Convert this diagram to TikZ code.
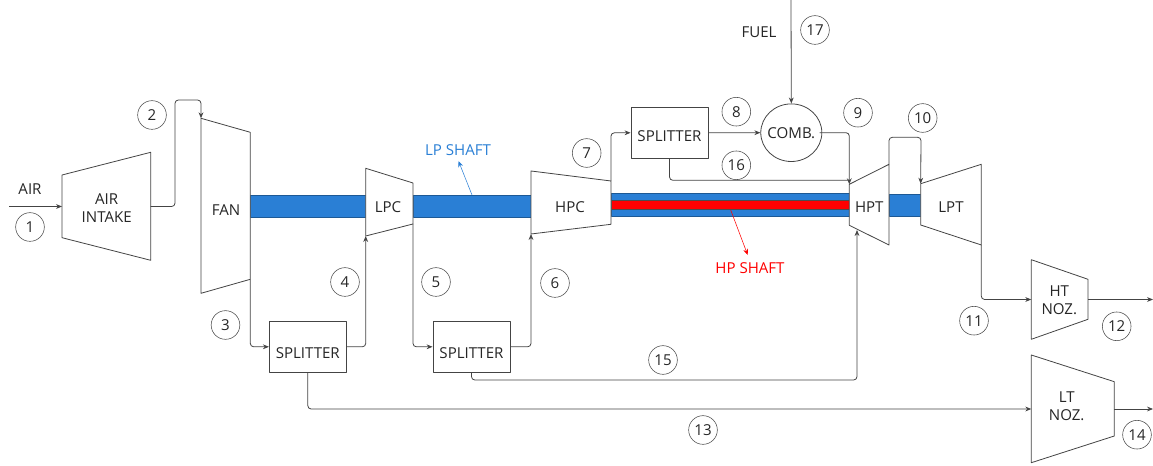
\documentclass[tikz,border=0pt]{standalone}
\usepackage{fontspec}
\setmainfont{Open Sans}
\usetikzlibrary{arrows.meta,shapes.geometric}
\definecolor{linegray}{HTML}{444444}
\definecolor{shaftblue}{HTML}{2A7FD5}
\tikzset{
	flow/.style={draw=linegray,line width=0.6pt,rounded corners=2.5pt},
	machine/.style={draw=linegray,line width=0.6pt,fill=white},
	splitbox/.style={draw=linegray,line width=0.6pt,minimum width=57.75pt,minimum height=38.25pt,inner sep=0pt},
	statenum/.style={circle,draw=linegray,line width=0.4pt,minimum size=21.5pt,inner sep=0pt},
	shaft/.style={fill=shaftblue,draw=shaftblue!70!black,line width=0.3pt},
	tag/.style={align=center,inner sep=0pt},
}
% trapezium: name, x left, y top left, y bottom left, x right, y top right, y bottom right
\newcommand{\machineshape}[7]{
	\coordinate (#1-a) at (#2,#3); \coordinate (#1-b) at (#2,#4);
	\coordinate (#1-c) at (#5,#6); \coordinate (#1-d) at (#5,#7);
	\draw[machine] (#1-a)--(#1-c)--(#1-d)--(#1-b)--cycle;
}
\begin{document}
\begin{tikzpicture}[>={Stealth[length=4.5pt,width=3.6pt]},line join=round,x=0.75pt,y=-0.75pt,font=\fontsize{11.3}{13.5}\selectfont,text=black!85]
	\useasboundingbox (0,0) rectangle (1153,466);
	% shafts
	\fill[shaft] (250,195) rectangle (366,217.3);
	\fill[shaft] (413,195) rectangle (531,217.3);
	\fill[shaft] (611,193.5) rectangle (850,216);
	\fill[shaft] (889,194) rectangle (921,216);
	\fill[red,draw=black!70,line width=0.3pt] (611,200.3) rectangle (850,209.3);
	% machines
	\machineshape{intake}{62}{175}{237.7}{150.7}{152.3}{260.3}
	\machineshape{fan}{201}{118.3}{293.3}{250.3}{132.3}{279.3}
	\machineshape{lpc}{365.7}{168.3}{236}{413}{183}{224}
	\machineshape{hpc}{531}{171}{234}{611}{181}{224.3}
	\machineshape{hpt}{849.3}{184.3}{225.3}{889}{164.3}{245}
	\machineshape{lpt}{920.7}{183.7}{225}{981.3}{164.3}{245}
	\machineshape{htnoz}{1031.3}{259.7}{339.3}{1088}{279.3}{319.3}
	\machineshape{ltnoz}{1031.3}{355}{462.7}{1114.3}{381.7}{436}
	\node[tag] (intaketxt) at (106.7,208) {AIR\\INTAKE};
	\node[tag] (fantxt) at (226,210) {FAN};
	\node[tag] (lpctxt) at (388,207) {LPC};
	\node[tag] (hpctxt) at (570,207) {HPC};
	\node[tag] (hpttxt) at (869.3,207) {HPT};
	\node[tag] (lpttxt) at (951,207) {LPT};
	\node[tag] (htnoztxt) at (1059.3,300.5) {HT\\NOZ.};
	\node[tag] (ltnoztxt) at (1066.7,406.7) {LT\\NOZ.};
	% splitters and combustor
	\node[splitbox] (spl1) at (307.8,346.8) {\raisebox{-8.5pt}[0pt][0pt]{SPLITTER}};
	\node[splitbox] (spl2) at (471.5,346.8) {\raisebox{-8.5pt}[0pt][0pt]{SPLITTER}};
	\node[splitbox] (spl3) at (669.5,132.8) {\raisebox{-6.4pt}[0pt][0pt]{SPLITTER}};
	\node[ellipse,draw=linegray,line width=0.6pt,minimum width=45.8pt,minimum height=43.2pt,inner ysep=0pt,inner xsep=-2.8pt] (comb) at (791.3,132.7) {COMB.};
	% free ends
	\coordinate (airin) at (9,206.5);
	\coordinate (fuelin) at (791,0);
	\coordinate (intakeout) at (150.7,206.5);
	\coordinate (htin) at (1031.3,299.5);
	\coordinate (htout) at (1088,299.5);
	\coordinate (htend) at (1153,299.5);
	\coordinate (ltin) at (1031.3,409);
	\coordinate (ltout) at (1114.3,409);
	\coordinate (ltend) at (1153,409);
	\coordinate (hptjoin) at (849.3,180.3);
	\coordinate (hptlow) at (857,230);
	% connectors
	\draw[flow,->] (airin)--(intakeout-|intake-a);
	\draw[flow,->] (intakeout)--(175,206.5)--(175,100)--(201,100)--(fan-a);
	\draw[flow,->] (fan-d)|-(spl1.west);
	\draw[flow,->] (spl1.east)-|(lpc-b);
	\draw[flow,->] (lpc-d)|-(spl2.west);
	\draw[flow,->] (spl2.east)-|(hpc-b);
	\draw[flow,->] (hpc-c)|-(spl3.west);
	\draw[flow,->] (spl3.east)--(comb.west);
	\draw[flow,->] (fuelin)--(comb.north);
	\draw[flow,->] ([xshift=-2pt]comb.east)-|(hpt-a);
	\draw[flow] (spl3.south)|-(hptjoin);
	\draw[flow,->] (hpt-c)--(889,137.3)--(921,137.3)--(lpt-a);
	\draw[flow,->] (lpt-d)|-(htin);
	\draw[flow,->] (htout)--(htend);
	\draw[flow,->] (spl1.south)|-(ltin);
	\draw[flow,->] (ltout)--(ltend);
	\draw[flow,->] (spl2.south)|-(857,380)--(hptlow);
	% shaft labels
	\node[text=shaftblue,inner sep=0pt] (lplabel) at (458,150) {LP SHAFT};
	\node[text=red,inner sep=0pt] (hplabel) at (750,268) {HP SHAFT};
	\coordinate (lpshaft) at (472,195);
	\coordinate (hpshaft) at (730.7,210);
	\draw[->,shaftblue,line width=0.4pt] (lpshaft)--(458.5,161);
	\draw[->,red,line width=0.4pt] (hpshaft)--(747.7,255);
	% texts and state numbers
	\node[inner sep=0pt] (airtxt) at (30,189) {AIR};
	\node[inner sep=0pt] (fueltxt) at (759,32) {FUEL};
	\foreach \i/\x/\y in {1/30/227,2/152/115,3/225.5/325,4/345/282,5/436/282,6/555/283,7/586.7/153,8/736.3/111.7,9/858/112.7,10/922.7/118,11/974/320.7,12/1116.7/326.3,13/703/430,14/1137/434.7,15/663/360,16/736.3/165.3,17/815/30}
		\node[statenum] (n\i) at (\x,\y) {\i};
\end{tikzpicture}
\end{document}
